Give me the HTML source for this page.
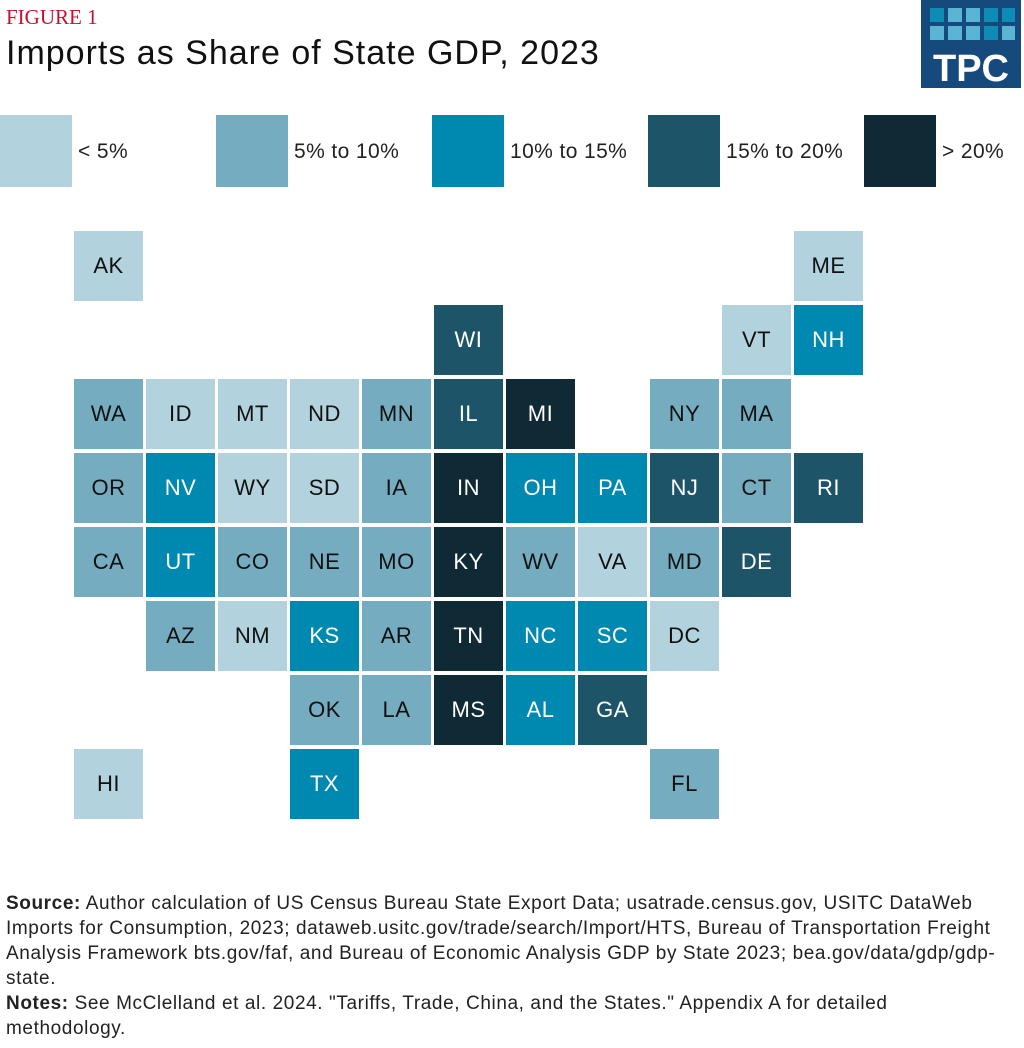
<!DOCTYPE html>
<html><head><meta charset="utf-8"><style>
body{margin:0;width:1024px;height:1048px;background:#fff;font-family:"Liberation Sans",sans-serif;position:relative;overflow:hidden}
.a{position:absolute}
.c{position:absolute;width:69px;height:70px;display:flex;align-items:center;justify-content:center;font-size:22px;letter-spacing:0.5px}
.l1{background:#b2d2dd;color:#111}.l2{background:#76acbf;color:#111}.l3{background:#0089b0;color:#fff}.l4{background:#1d5468;color:#fff}.l5{background:#0f2935;color:#fff}
.lg{position:absolute;top:115px;width:72px;height:72px}
.lt{position:absolute;top:140px;font-size:21px;letter-spacing:0.4px;color:#222}
.src{position:absolute;left:6px;top:891px;font-size:19px;letter-spacing:0.6px;line-height:25px;color:#222;white-space:nowrap}
</style></head><body>
<div class="a" style="left:6px;top:5px;font-family:'Liberation Serif',serif;font-size:21px;color:#c8102e">FIGURE 1</div>
<div class="a" style="left:6px;top:34px;font-size:34px;letter-spacing:1px;color:#111">Imports as Share of State GDP, 2023</div>
<div class="a" style="left:921px;top:0;width:100px;height:88px;background:#174a7c">
<svg width="100" height="88">
<g fill="#5ab4d4">
<rect x="9" y="8" width="14" height="14" fill="#0f8cb5"/><rect x="27" y="8" width="14" height="14"/><rect x="45" y="8" width="14" height="14"/><rect x="63" y="8" width="14" height="14" fill="#0f8cb5"/><rect x="81" y="8" width="13" height="14" fill="#0f8cb5"/>
<rect x="9" y="26" width="14" height="14"/><rect x="27" y="26" width="14" height="14"/><rect x="45" y="26" width="14" height="14"/><rect x="63" y="26" width="14" height="14" fill="#0f8cb5"/><rect x="81" y="26" width="13" height="14"/>
</g>
<text x="50" y="81" text-anchor="middle" fill="#fff" font-size="38" font-weight="bold" font-family="Liberation Sans">TPC</text></svg></div>
<div class="lg l1" style="left:0"></div><div class="lt" style="left:78px">&lt; 5%</div>
<div class="lg l2" style="left:216px"></div><div class="lt" style="left:294px">5% to 10%</div>
<div class="lg l3" style="left:432px"></div><div class="lt" style="left:510px">10% to 15%</div>
<div class="lg l4" style="left:648px"></div><div class="lt" style="left:726px">15% to 20%</div>
<div class="lg l5" style="left:864px"></div><div class="lt" style="left:942px">&gt; 20%</div>
<div id="g"></div>
<script>
var d=[["AK",0,0,1],["ME",10,0,1],["WI",5,1,4],["VT",9,1,1],["NH",10,1,3],
["WA",0,2,2],["ID",1,2,1],["MT",2,2,1],["ND",3,2,1],["MN",4,2,2],["IL",5,2,4],["MI",6,2,5],["NY",8,2,2],["MA",9,2,2],
["OR",0,3,2],["NV",1,3,3],["WY",2,3,1],["SD",3,3,1],["IA",4,3,2],["IN",5,3,5],["OH",6,3,3],["PA",7,3,3],["NJ",8,3,4],["CT",9,3,2],["RI",10,3,4],
["CA",0,4,2],["UT",1,4,3],["CO",2,4,2],["NE",3,4,2],["MO",4,4,2],["KY",5,4,5],["WV",6,4,2],["VA",7,4,1],["MD",8,4,2],["DE",9,4,4],
["AZ",1,5,2],["NM",2,5,1],["KS",3,5,3],["AR",4,5,2],["TN",5,5,5],["NC",6,5,3],["SC",7,5,3],["DC",8,5,1],
["OK",3,6,2],["LA",4,6,2],["MS",5,6,5],["AL",6,6,3],["GA",7,6,4],
["HI",0,7,1],["TX",3,7,3],["FL",8,7,2]];
var h="";d.forEach(function(e){h+='<div class="c l'+e[3]+'" style="left:'+(74+72*e[1])+'px;top:'+(231+74*e[2])+'px">'+e[0]+'</div>';});
document.getElementById("g").innerHTML=h;
</script>
<div class="src"><b>Source:</b> Author calculation of US Census Bureau State Export Data; usatrade.census.gov, USITC DataWeb<br>Imports for Consumption, 2023; dataweb.usitc.gov/trade/search/Import/HTS, Bureau of Transportation Freight<br>Analysis Framework bts.gov/faf, and Bureau of Economic Analysis GDP by State 2023; bea.gov/data/gdp/gdp-<br>state.<br><b>Notes:</b> See McClelland et al. 2024. "Tariffs, Trade, China, and the States." Appendix A for detailed<br>methodology.</div>
</body></html>
